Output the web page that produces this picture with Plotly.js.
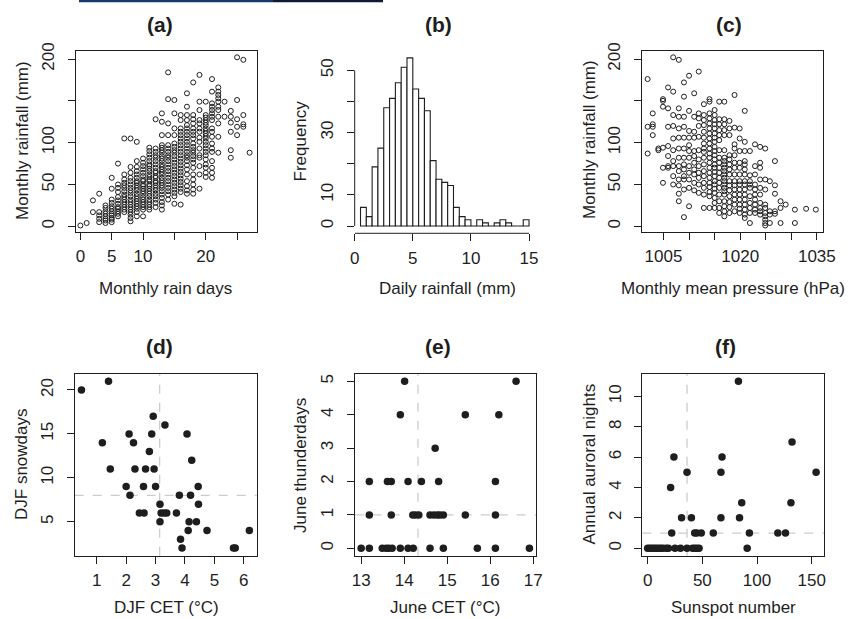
<!DOCTYPE html>
<html><head><meta charset="utf-8">
<script src="https://cdn.plot.ly/plotly-3.0.1.min.js"></script>
<style>html,body{margin:0;padding:0;background:#fff}#chart{width:851px;height:619px}</style>
</head><body><div id="chart"></div>
<script>
// ---------- (a) Monthly rainfall vs monthly rain days ----------
const rainDays = [0,1,2,3,4,5,6,7,8,9,10,11,12,13,14,15,16,17,18,19,20,21,22,23,24,25,26,27];
const rainfallByDays = [
  [1],
  [4],
  [31,17],
  [39,17,13,9,5],
  [25,22,18,15,12,9,7,4],
  [58,45,32,28,24,21,18,15,13,10,8,5],
  [75,50,46,41,35,31,27,23,21,18,15,12],
  [105,62,56,52,49,46,42,38,35,32,29,26,23,20,17],
  [105,71,64,58,54,50,46,43,40,36,32,29,26,23,20,17,14,10,6],
  [101,78,71,66,62,58,54,52,49,46,43,39,36,33,30,27,24,21,17,12],
  [81,76,72,68,64,60,56,54,50,48,45,42,39,35,32,29,26,23,20,12],
  [94,90,86,82,78,74,72,69,66,62,59,56,54,50,48,45,42,39,36,32,29,26,23,20],
  [128,93,89,85,82,78,74,70,66,64,60,58,54,52,49,46,43,39,36,32,28,23],
  [135,125,109,97,94,91,88,84,81,78,74,71,68,65,62,58,55,52,49,46,42,38,34,29,25,20],
  [184,152,123,109,97,93,89,85,82,78,74,70,66,62,58,54,50,46,42,38,32],
  [151,135,117,109,99,95,91,88,84,80,76,72,68,64,60,56,52,48,44,40,36,27],
  [133,127,117,113,109,105,101,97,93,89,85,81,77,73,69,65,61,57,53,49,45,41,26],
  [159,143,133,127,121,117,113,109,105,101,97,93,89,85,82,78,73,68,62,54,48,43,39],
  [172,133,128,123,117,113,109,105,99,95,91,88,84,80,76,70,62,56,50,44,39],
  [181,149,139,127,123,117,113,106,101,93,85,82,72,62,45],
  [149,133,130,127,124,121,117,114,111,108,105,101,97,93,89,85,80,74,70,64,59],
  [176,161,147,143,139,135,131,127,117,113,107,99,93,89,78,70,64,58],
  [166,161,157,153,149,143,139,131,123,107,88],
  [149,131],
  [138,131,124,113,91,82],
  [202,151,128,119,109],
  [199,133,122,119],
  [88]
];
const aTickVals = [0,5,10,15,20,25];
const aTickText = ['0','5','10','','20',''];
const rainTickVals = [0,50,100,150,200];
const rainTickText = ['0','50','100','','200'];

// ---------- (b) Histogram of daily rainfall ----------
const binStarts = [0.5,1,1.5,2,2.5,3,3.5,4,4.5,5,5.5,6,6.5,7,7.5,8,8.5,9,9.5,10,10.5,11,11.5,12,12.5,13,13.5,14,14.5];
const binCounts = [6,3,19,25,38,41,46,51,54,44,41,37,21,15,14,13,6,3,2,0,2,1,0,1,2,1,0,0,2];
const binWidth = 0.5;
const bTickValsX = [0,5,10,15];
const bTickValsY = [0,10,20,30,40,50];
const bTickTextY = ['0','10','','30','','50'];

// ---------- (c) Monthly rainfall vs pressure ----------
const pressureCols = [1001.9,1002.9,1004.0,1004.9,1005.9,1006.9,1008.0,1009.0,1010.0,1011.0,1011.9,1012.9,1014.0,1015.0,1015.9,1016.9,1017.9,1018.9,1019.9,1020.9,1021.9,1022.9,1023.9,1024.9,1025.8,1026.8,1027.9,1028.9,1030.7,1032.9,1034.8];
const rainfallByPressure = [
  [176,119,87],
  [135,122,119,109],
  [93,91],
  [152,150,143,94,70,52],
  [166,141,119,96,84,72,70],
  [202,161,133,120,105,91,78,72,60,50],
  [199,141,131,117,106,93,82,72,66,56,49,39,30],
  [172,155,131,119,106,93,82,74,68,60,56,44,11],
  [180,138,114,106,97,90,82,72,64,56,46,24],
  [159,131,113,106,90,84,76,68,62,52,43],
  [185,135,129,120,107,91,80,72,64,58,50,40],
  [146,133,127,121,113,106,99,93,89,82,74,66,60,52,46,38,22],
  [152,149,135,129,123,117,111,105,99,93,87,82,76,70,64,58,52,47,41,36,22],
  [139,133,127,122,117,111,106,101,95,90,85,80,74,70,65,60,54,50,45,40,34,28,22],
  [149,128,122,115,109,103,91,82,76,70,64,58,52,46,38,30,22,16],
  [149,128,122,115,109,91,82,78,74,70,66,62,58,54,50,46,42,38,30,24,18,12],
  [126,117,109,85,80,74,68,62,54,49,43,36,29,23,16],
  [157,118,98,93,85,76,70,62,54,49,44,38,32,26,18],
  [117,105,90,76,70,62,54,50,44,38,32,26,21,16],
  [138,101,90,78,74,68,62,54,50,44,38,32,26,20,14,10],
  [90,61,54,50,46,36,28,22,16,4],
  [98,72,62,50,44,38,32,26,20,16],
  [95,76,70,56,46,38,28,22,18,14],
  [93,56,44,26,22,16,12,8,4,1],
  [54,18,14,4],
  [78,49,39,18,15],
  [30,22,4],
  [26],
  [20,4],
  [21],
  [20]
];
const cTickVals = [1005,1010,1015,1020,1025,1030,1035];
const cTickText = ['1005','','','1020','','','1035'];

// ---------- (d) DJF snowdays vs DJF CET ----------
const djfCET = [0.48,1.40,1.19,1.46,2.00,2.13,2.10,2.25,2.30,2.45,2.61,2.59,2.66,2.79,2.87,2.92,2.95,3.00,3.15,3.15,3.19,3.29,3.38,3.32,3.71,3.81,3.85,3.90,4.07,4.11,4.14,4.19,4.23,4.39,4.45,4.46,4.75,5.65,5.71,6.19];
const djfSnow = [20,21,14,11,9,8,15,14,11,6,6,9,11,13,15,17,11,9,7,5,6,6,6,16,6,8,3,2,15,4,5,8,12,5,9,7,4,2,2,4];
const dTickX = [1,2,3,4,5,6];
const dTickY = [5,10,15,20];

// ---------- (e) June thunderdays vs June CET ----------
const juneCET = [14.01,16.60,13.91,15.42,16.20,14.72,13.19,13.61,13.70,14.09,14.40,14.80,16.12,
  13.19,13.70,14.20,14.26,14.34,14.60,14.69,14.77,14.83,14.91,15.42,16.12,
  13.00,13.19,13.49,13.58,13.64,13.72,13.91,14.09,14.21,14.60,14.91,15.70,16.12,16.91];
const juneThunder = [5,5,4,4,4,3,2,2,2,2,2,2,2,
  1,1,1,1,1,1,1,1,1,1,1,1,
  0,0,0,0,0,0,0,0,0,0,0,0,0,0];
const eTickX = [13,14,15,16,17];
const eTickY = [0,1,2,3,4,5];

// ---------- (f) Annual auroral nights vs sunspot number ----------
const sunspots = [83,132,24,68,36,67,154,21,86,131,31,40,67,84,22,43,45,49,60,93,119,126,
  0,2,4,6,8,10,12,14,17,19,25,30,36,41,43,45,47,91];
const auroralNights = [11,7,6,6,5,5,5,4,3,3,2,2,2,2,1,1,1,1,1,1,1,1,
  0,0,0,0,0,0,0,0,0,0,0,0,0,0,0,0,0,0];
const fTickX = [0,50,100,150];
const fTickY = [0,2,4,6,8,10];

// reference (dashed) lines: x and y for panels d, e, f
const refX = [3.14, 14.32, 36];
const refY = [8, 1, 1];

// ---------- build ----------
const W = 851, H = 619;
const fx = v => v / W, fy = v => 1 - v / H;
const FONT = 'Liberation Sans, Arial, Helvetica, sans-serif';
const INK = '#1e1e1e';

const aX = [], aY = [];
rainDays.forEach((d, i) => rainfallByDays[i].forEach(v => { aX.push(d); aY.push(v); }));
const cX = [], cY = [];
pressureCols.forEach((p, i) => rainfallByPressure[i].forEach(v => { cX.push(p); cY.push(v); }));

const openMarker = {symbol: 'circle-open', size: 5, color: INK, line: {width: 1, color: INK}};
const dotMarker = {symbol: 'circle', size: 7.5, color: INK, line: {width: 0}};

const traces = [
  {type: 'scatter', mode: 'markers', x: aX, y: aY, xaxis: 'x', yaxis: 'y', marker: openMarker},
  {type: 'bar', x: binStarts.map(b => b + binWidth / 2), y: binCounts, width: binWidth, xaxis: 'x2', yaxis: 'y2',
   marker: {color: '#ffffff', line: {color: INK, width: 1.1}}},
  {type: 'scatter', mode: 'markers', x: cX, y: cY, xaxis: 'x3', yaxis: 'y3', marker: openMarker},
  {type: 'scatter', mode: 'markers', x: djfCET, y: djfSnow, xaxis: 'x4', yaxis: 'y4', marker: dotMarker},
  {type: 'scatter', mode: 'markers', x: juneCET, y: juneThunder, xaxis: 'x5', yaxis: 'y5', marker: dotMarker},
  {type: 'scatter', mode: 'markers', x: sunspots, y: auroralNights, xaxis: 'x6', yaxis: 'y6', marker: dotMarker}
];

function xa(L, R, range, vals, text, anchor, box) {
  return {domain: [fx(L), fx(R)], range, anchor, tickvals: vals, ticktext: text || vals.map(String),
    ticks: 'outside', ticklen: 7, tickwidth: 1, tickcolor: INK, showline: box, mirror: box,
    linecolor: INK, linewidth: 1, showgrid: false, zeroline: false, automargin: false,
    tickfont: {family: FONT, size: 17, color: INK}, ticklabelstandoff: 2, fixedrange: true};
}
function ya(T, B, range, vals, text, anchor, box) {
  return {domain: [fy(B), fy(T)], range, anchor, tickvals: vals, ticktext: text || vals.map(String),
    ticks: 'outside', ticklen: 7, tickwidth: 1, tickcolor: INK, showline: box, mirror: box,
    linecolor: INK, linewidth: 1, showgrid: false, zeroline: false, automargin: false, tickangle: -90,
    tickfont: {family: FONT, size: 17, color: INK}, ticklabelstandoff: 7, fixedrange: true};
}

const layout = {
  width: W, height: H, margin: {l: 0, r: 0, t: 0, b: 0}, showlegend: false,
  paper_bgcolor: '#ffffff', plot_bgcolor: 'rgba(0,0,0,0)', bargap: 0,
  font: {family: FONT, color: INK},
  xaxis:  xa(75.7, 256.5, [-0.75, 28.1], aTickVals, aTickText, 'y', true),
  yaxis:  ya(51.3, 231.7, [-6.4, 209.2], rainTickVals, rainTickText, 'x', true),
  xaxis2: xa(354.7, 536, [0, 15.6], bTickValsX, null, 'y2', false),
  yaxis2: ya(51, 233.3, [-2.34, 56.2], bTickValsY, bTickTextY, 'x2', false),
  xaxis3: xa(641.5, 823, [1000.7, 1036.2], cTickVals, cTickText, 'y3', true),
  yaxis3: ya(51.3, 231.7, [-6.4, 209.2], rainTickVals, rainTickText, 'x3', true),
  xaxis4: xa(74.7, 256.7, [0.25, 6.44], dTickX, null, 'y4', true),
  yaxis4: ya(374, 555.7, [1.13, 21.82], dTickY, null, 'x4', true),
  xaxis5: xa(354.7, 536.3, [12.85, 17.07], eTickX, null, 'y5', true),
  yaxis5: ya(374, 555.7, [-0.22, 5.22], eTickY, null, 'x5', true),
  xaxis6: xa(642.3, 824.3, [-4.9, 161.5], fTickX, null, 'y6', true),
  yaxis6: ya(374, 555.7, [-0.49, 11.47], fTickY, null, 'x6', true),
  shapes: [],
  annotations: []
};

// axis lines for the histogram (drawn from first to last tick)
layout.shapes.push({type: 'line', xref: 'x2', yref: 'y2 domain', x0: bTickValsX[0], x1: bTickValsX[bTickValsX.length - 1], y0: 0, y1: 0, line: {color: INK, width: 1}});
layout.shapes.push({type: 'line', xref: 'x2 domain', yref: 'y2', x0: 0, x1: 0, y0: bTickValsY[0], y1: bTickValsY[bTickValsY.length - 1], line: {color: INK, width: 1}});

// dashed reference lines
['4', '5', '6'].forEach((n, i) => {
  layout.shapes.push({type: 'line', layer: 'below', xref: 'x' + n, yref: 'y' + n + ' domain', x0: refX[i], x1: refX[i], y0: 0, y1: 1, line: {color: '#cccccc', width: 1.3, dash: 'dash'}});
  layout.shapes.push({type: 'line', layer: 'below', xref: 'x' + n + ' domain', yref: 'y' + n, x0: 0, x1: 1, y0: refY[i], y1: refY[i], line: {color: '#cccccc', width: 1.3, dash: 'dash'}});
});

// cropped banner strip at the top edge
layout.shapes.push({type: 'rect', xref: 'paper', yref: 'paper', x0: fx(79), x1: fx(273), y0: fy(2.3), y1: 1, fillcolor: '#173a6c', line: {width: 0}});
layout.shapes.push({type: 'rect', xref: 'paper', yref: 'paper', x0: fx(273), x1: fx(383), y0: fy(2.3), y1: 1, fillcolor: '#0f1a33', line: {width: 0}});

function ann(text, x, y, size, angle, bold) {
  layout.annotations.push({text: bold ? '<b>' + text + '</b>' : text, x: fx(x), y: fy(y), xref: 'paper', yref: 'paper',
    xanchor: 'center', yanchor: 'middle', showarrow: false, textangle: angle || 0,
    font: {family: FONT, size, color: INK}});
}
// panel titles
ann('(a)', 160, 24.5, 21, 0, true);
ann('(b)', 438.7, 24.5, 21, 0, true);
ann('(c)', 729, 24.5, 21, 0, true);
ann('(d)', 159, 346, 21, 0, true);
ann('(e)', 438, 346, 21, 0, true);
ann('(f)', 725, 346, 21, 0, true);
// axis titles
ann('Monthly rain days', 165, 288, 17);
ann('Monthly rainfall (mm)', 22, 141, 17, -90);
ann('Daily rainfall (mm)', 447.5, 288, 17);
ann('Frequency', 300, 141.5, 17, -90);
ann('Monthly mean pressure (hPa)', 732.5, 288, 17);
ann('Monthly rainfall (mm)', 589, 140, 17, -90);
ann('DJF CET (°C)', 166, 607, 17);
ann('DJF snowdays', 21, 465, 17, -90);
ann('June CET (°C)', 444.7, 607, 17);
ann('June thunderdays', 300, 466, 17, -90);
ann('Sunspot number', 733.5, 607, 17);
ann('Annual auroral nights', 588.5, 464, 17, -90);

Plotly.newPlot('chart', traces, layout, {displayModeBar: false, staticPlot: true});
</script></body></html>
